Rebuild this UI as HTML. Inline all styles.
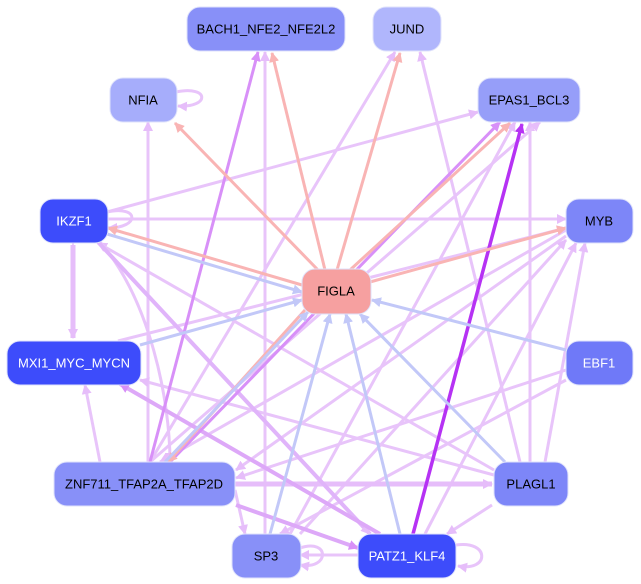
<!DOCTYPE html>
<html><head><meta charset="utf-8"><style>
html,body{margin:0;padding:0;background:#fff;width:641px;height:584px;overflow:hidden}
text{font-family:"Liberation Sans",sans-serif;font-size:13px;text-anchor:middle;dominant-baseline:central}
</style></head><body>
<svg width="641" height="584" viewBox="0 0 641 584" xmlns="http://www.w3.org/2000/svg">
<defs>
<marker id="p" markerWidth="10" markerHeight="10" refX="9" refY="5" orient="auto" markerUnits="userSpaceOnUse"><path d="M0,0 L10,5 L0,10 z" fill="#e6bdfa"/></marker>
<marker id="d" markerWidth="10" markerHeight="10" refX="9" refY="5" orient="auto" markerUnits="userSpaceOnUse"><path d="M0,0 L10,5 L0,10 z" fill="#d890f8"/></marker>
<marker id="r" markerWidth="10" markerHeight="10" refX="9" refY="5" orient="auto" markerUnits="userSpaceOnUse"><path d="M0,0 L10,5 L0,10 z" fill="#f9b4b4"/></marker>
<marker id="b" markerWidth="10" markerHeight="10" refX="9" refY="5" orient="auto" markerUnits="userSpaceOnUse"><path d="M0,0 L10,5 L0,10 z" fill="#c2c8f8"/></marker>
<marker id="v" markerWidth="10" markerHeight="10" refX="9" refY="5" orient="auto" markerUnits="userSpaceOnUse"><path d="M0,0 L10,5 L0,10 z" fill="#b632f4"/></marker>
</defs>
<g fill="none" stroke-width="3">
<!-- light purple -->
<g stroke="#e8c4fa" marker-end="url(#p)">
<line x1="107" y1="219" x2="566" y2="219"/>
<line x1="107" y1="212" x2="478" y2="112"/>
<line x1="148" y1="462" x2="148" y2="122"/>
<line x1="494" y1="470" x2="98" y2="243"/>
<line x1="265" y1="534" x2="265" y2="52"/>
<line x1="520" y1="462" x2="420" y2="52"/>
<line x1="530" y1="462" x2="530" y2="122"/>
<line x1="545" y1="462" x2="585" y2="243"/>
<line x1="566" y1="370" x2="236" y2="478"/>
<line x1="118" y1="341" x2="566" y2="228"/>
<line x1="150" y1="462" x2="395" y2="52"/>
<line x1="290" y1="534" x2="515" y2="122"/>
<line x1="425" y1="534" x2="576" y2="243"/>
<line x1="300" y1="534" x2="566" y2="240"/>
<line x1="235" y1="490" x2="245" y2="534"/>
<line x1="358" y1="555" x2="300" y2="555"/>
<line x1="492" y1="505" x2="447" y2="534"/>
<line x1="100" y1="462" x2="85" y2="385"/>
<line x1="566" y1="230" x2="160" y2="462"/>
<line x1="566" y1="380" x2="280" y2="534"/>
<line x1="494" y1="475" x2="140" y2="380"/>
<line x1="566" y1="236" x2="236" y2="470"/>
<line x1="150" y1="462" x2="540" y2="122"/>
<path d="M100,242 C150,300 170,400 170,462"/>
<path d="M176,92 C210,85 210,108 178,106"/>
<path d="M107,212 C140,205 140,228 108,228"/>
<path d="M300,548 C330,538 330,570 300,565"/>
<path d="M456,545 C490,540 490,572 458,566"/>
</g>
<line x1="73" y1="245" x2="73" y2="338" stroke="#e6bdfa" stroke-width="5" marker-end="url(#p)" marker-start="url(#p)"/>
<line x1="235" y1="484" x2="492" y2="484" stroke="#e6bdfa" stroke-width="5" marker-end="url(#p)"/>
<line x1="98" y1="242" x2="370" y2="534" stroke="#e0b4fa" stroke-width="4" marker-end="url(#p)"/>
<line x1="380" y1="534" x2="120" y2="384" stroke="#dda8f8" stroke-width="4" marker-end="url(#d)"/>
<line x1="236" y1="505" x2="358" y2="548" stroke="#dda8f8" stroke-width="4" marker-end="url(#d)"/>
<!-- darker purple -->
<g stroke="#d890f8" marker-end="url(#d)">
<line x1="150" y1="462" x2="258" y2="52"/>
<line x1="170" y1="462" x2="500" y2="122"/>
</g>
<line x1="413" y1="534" x2="522" y2="124" stroke="#b632f4" stroke-width="3.5" marker-end="url(#v)"/>
<!-- pink -->
<g stroke="#f9b4b4" marker-end="url(#r)">
<line x1="318" y1="270" x2="175" y2="123"/>
<line x1="325" y1="270" x2="272" y2="53"/>
<line x1="337" y1="270" x2="400" y2="53"/>
<line x1="350" y1="270" x2="510" y2="123"/>
<line x1="370" y1="282" x2="566" y2="228"/>
<line x1="302" y1="285" x2="108" y2="228"/>
<line x1="305" y1="310" x2="168" y2="462"/>
</g>
<!-- blue -->
<g stroke="#c2c8f8" marker-end="url(#b)">
<line x1="107" y1="234" x2="302" y2="292"/>
<line x1="140" y1="345" x2="302" y2="300"/>
<line x1="270" y1="534" x2="330" y2="314"/>
<line x1="400" y1="534" x2="346" y2="314"/>
<line x1="505" y1="462" x2="360" y2="314"/>
<line x1="566" y1="350" x2="372" y2="300"/>
<line x1="165" y1="462" x2="308" y2="312"/>
</g>
</g>
<g stroke="#dfe2fb" stroke-width="1">
<rect x="187" y="7" width="158" height="44" rx="13" fill="#8890f8"/>
<rect x="373" y="7" width="68" height="44" rx="13" fill="#b0b6fc"/>
<rect x="110" y="78" width="67" height="44" rx="13" fill="#a6adfb"/>
<rect x="478" y="78" width="102" height="44" rx="13" fill="#969ef9"/>
<rect x="40" y="199" width="68" height="44" rx="13" fill="#3d4cfb"/>
<rect x="566" y="199" width="67" height="44" rx="13" fill="#7d86f8"/>
<rect x="302" y="269" width="69" height="45" rx="13" fill="#f6a0a0"/>
<rect x="7" y="341" width="134" height="44" rx="13" fill="#3d4cfb"/>
<rect x="566" y="341" width="67" height="44" rx="13" fill="#6f79f8"/>
<rect x="54" y="462" width="181" height="44" rx="13" fill="#8890f8"/>
<rect x="494" y="462" width="74" height="44" rx="13" fill="#7d86f8"/>
<rect x="232" y="534" width="69" height="44" rx="13" fill="#8890f8"/>
<rect x="358" y="534" width="98" height="44" rx="13" fill="#3d4cfb"/>
</g>
<text x="266" y="29">BACH1_NFE2_NFE2L2</text>
<text x="407" y="29">JUND</text>
<text x="143" y="100">NFIA</text>
<text x="529" y="100">EPAS1_BCL3</text>
<text x="74" y="221" fill="#fff">IKZF1</text>
<text x="599" y="221">MYB</text>
<text x="336" y="291">FIGLA</text>
<text x="74" y="363" fill="#fff">MXI1_MYC_MYCN</text>
<text x="599" y="363" fill="#fff">EBF1</text>
<text x="144" y="484">ZNF711_TFAP2A_TFAP2D</text>
<text x="531" y="484">PLAGL1</text>
<text x="266" y="556">SP3</text>
<text x="407" y="556" fill="#fff">PATZ1_KLF4</text>
</svg>
</body></html>
